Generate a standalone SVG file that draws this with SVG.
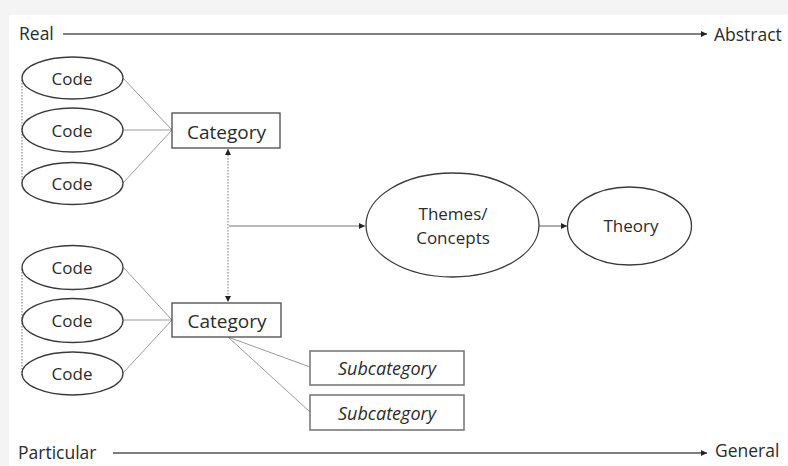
<svg xmlns="http://www.w3.org/2000/svg" width="788" height="466" viewBox="0 0 788 466">
<defs>
<style>
text{font-family:"Open Sans","Noto Sans",sans-serif;fill:#2b2b2b}
.axis{font-size:17.5px}
.code{font-size:17px;text-anchor:middle}
.cat{font-size:19px;text-anchor:middle}
.sub{font-size:18px;font-style:italic;text-anchor:middle}
.big{font-size:17px;text-anchor:middle}
.ell{fill:#fff;stroke:#3a3a3a;stroke-width:1.3}
.box{fill:#fff;stroke:#4a4a4a;stroke-width:1.3}
.sbox{fill:#fff;stroke:#7a7a7a;stroke-width:1.6}
.thin{stroke:#9a9a9a;stroke-width:1;fill:none}
.dot{stroke:#8a8a8a;stroke-width:1.2;stroke-dasharray:1.5 1.5;fill:none}
.axl{stroke:#555;stroke-width:1.6;fill:none}
.arr{stroke:#777;stroke-width:1.2;fill:none}
</style>
<marker id="ah" viewBox="0 0 10 10" refX="10" refY="5" markerWidth="6" markerHeight="6" markerUnits="userSpaceOnUse" orient="auto-start-reverse">
<path d="M0,0 L10,5 L0,10 z" fill="#222"/>
</marker>
</defs>
<rect x="0" y="0" width="788" height="466" fill="#f4f4f4"/>
<rect x="9" y="15" width="779" height="451" fill="#fff"/>

<g id="connectors">
<line class="axl" x1="63" y1="34" x2="707" y2="34" marker-end="url(#ah)"/>
<line class="axl" x1="113" y1="453" x2="707" y2="453" marker-end="url(#ah)"/>
<line class="dot" x1="22" y1="80" x2="22" y2="185"/>
<line class="dot" x1="22" y1="269" x2="22" y2="375"/>
<line class="thin" x1="123" y1="78" x2="172" y2="130"/>
<line class="thin" x1="123" y1="130" x2="172" y2="130"/>
<line class="thin" x1="123" y1="183" x2="172" y2="130"/>
<line class="thin" x1="123" y1="267" x2="172" y2="320"/>
<line class="thin" x1="123" y1="320" x2="172" y2="320"/>
<line class="thin" x1="123" y1="373" x2="172" y2="320"/>
<line class="thin" x1="228" y1="337" x2="310" y2="367"/>
<line class="thin" x1="228" y1="337" x2="310" y2="412"/>
<line class="dot" x1="228" y1="149" x2="228" y2="302" marker-start="url(#ah)" marker-end="url(#ah)"/>
<line class="arr" x1="229" y1="226" x2="365" y2="226" marker-end="url(#ah)"/>
<line class="arr" x1="539" y1="226" x2="567" y2="226" marker-end="url(#ah)"/>
</g>

<g id="axis-labels">
<text class="axis" x="19" y="40">Real</text>
<text class="axis" x="714" y="41">Abstract</text>
<text class="axis" x="18" y="459">Particular</text>
<text class="axis" x="715" y="457">General</text>
</g>

<g id="code1"><ellipse class="ell" cx="72.5" cy="78" rx="50.5" ry="21"/><text class="code" x="72" y="84.5">Code</text></g>
<g id="code2"><ellipse class="ell" cx="72.5" cy="130" rx="50.5" ry="22"/><text class="code" x="72" y="136.5">Code</text></g>
<g id="code3"><ellipse class="ell" cx="72.5" cy="183.5" rx="50.5" ry="21"/><text class="code" x="72" y="190">Code</text></g>
<g id="code4"><ellipse class="ell" cx="72.5" cy="267.5" rx="50.5" ry="22"/><text class="code" x="72" y="274">Code</text></g>
<g id="code5"><ellipse class="ell" cx="72.5" cy="320.5" rx="50.5" ry="22"/><text class="code" x="72" y="327">Code</text></g>
<g id="code6"><ellipse class="ell" cx="72.5" cy="373.5" rx="50.5" ry="21.5"/><text class="code" x="72" y="380">Code</text></g>

<g id="category1"><rect class="box" x="172" y="113" width="108" height="35"/><text class="cat" x="226.5" y="138.5">Category</text></g>
<g id="category2"><rect class="box" x="172" y="303" width="109" height="34"/><text class="cat" x="227" y="328">Category</text></g>

<g id="subcategory1"><rect class="sbox" x="310" y="351" width="154" height="34"/><text class="sub" x="387" y="375">Subcategory</text></g>
<g id="subcategory2"><rect class="sbox" x="310" y="395" width="154" height="35"/><text class="sub" x="387" y="420">Subcategory</text></g>

<g id="themes"><ellipse class="ell" cx="452.5" cy="225" rx="86.5" ry="52"/><text class="big" x="453" y="220">Themes/</text><text class="big" x="453" y="244">Concepts</text></g>
<g id="theory"><ellipse class="ell" cx="629.5" cy="226" rx="62" ry="39"/><text class="big" x="631" y="232">Theory</text></g>
</svg>
